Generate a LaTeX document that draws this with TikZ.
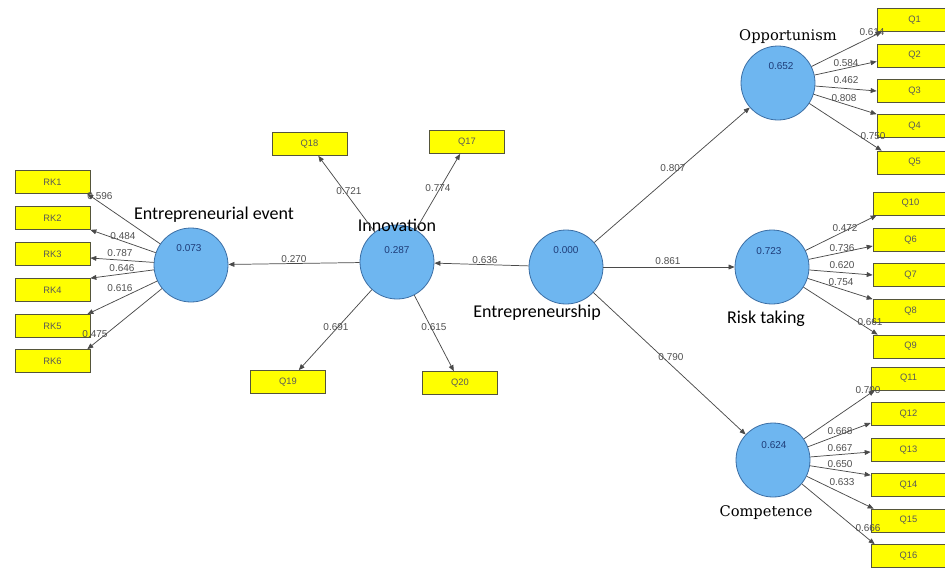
\documentclass[tikz,border=0pt]{standalone}
\usepackage{fontspec}
\setmainfont{Liberation Sans}
\newfontfamily\calfont{Carlito}
\newfontfamily\serfont{DejaVu Serif}
\usetikzlibrary{arrows.meta,calc}
\definecolor{circfill}{HTML}{6EB6F0}
\definecolor{circline}{HTML}{3C6FA5}
\definecolor{boxfill}{HTML}{FFFF00}
\definecolor{boxline}{HTML}{55553A}
\definecolor{valtext}{HTML}{1E3C78}
\definecolor{numtext}{HTML}{505050}
\definecolor{linecol}{HTML}{4A4A4A}
\begin{document}
\begin{tikzpicture}[x=0.75pt,y=-0.75pt,
 lv/.style={circle,draw=circline,fill=circfill,line width=0.6pt,minimum size=55.5pt,inner sep=0},
 ind/.style={rectangle,draw=boxline,fill=boxfill,line width=0.5pt,minimum width=56.25pt,minimum height=17.25pt,inner sep=0,font=\fontsize{7}{8}\selectfont,text=black!65},
 num/.style={font=\fontsize{7.5}{8}\selectfont,text=numtext,inner sep=0},
 rsq/.style={font=\fontsize{7.5}{8}\selectfont,text=valtext,inner sep=0},
 sname/.style={font=\calfont\fontsize{13.5}{15}\selectfont,inner sep=0},
 rname/.style={font=\serfont\fontsize{11}{13}\selectfont,inner sep=0},
 arr/.style={draw=linecol,line width=0.55pt,-{Triangle[length=4.5pt,width=3.6pt]}}
]
\useasboundingbox (0,0) rectangle (945,569);
\clip (0,0) rectangle (945,569);
\fill[white] (0,0) rectangle (945,569);

% indicator boxes
\node[ind] (rk1) at (52.5,182) {RK1};
\node[ind] (rk2) at (52.5,218) {RK2};
\node[ind] (rk3) at (52.5,254) {RK3};
\node[ind] (rk4) at (52.5,290) {RK4};
\node[ind] (rk5) at (52.5,326) {RK5};
\node[ind] (rk6) at (52.5,361) {RK6};

\node[ind] (q18) at (309.5,144) {Q18};
\node[ind] (q17) at (467,142) {Q17};
\node[ind] (q19) at (288,382) {Q19};
\node[ind] (q20) at (460,383) {Q20};

\node[ind] (q1) at (914.5,20) {Q1};
\node[ind] (q2) at (914.5,55.5) {Q2};
\node[ind] (q3) at (914.5,91) {Q3};
\node[ind] (q4) at (914.5,126) {Q4};
\node[ind] (q5) at (914.5,162.5) {Q5};

\node[ind] (q10) at (910.5,203.5) {Q10};
\node[ind] (q6) at (910.5,240) {Q6};
\node[ind] (q7) at (910.5,275) {Q7};
\node[ind] (q8) at (910.5,311) {Q8};
\node[ind] (q9) at (910.5,346.5) {Q9};

\node[ind] (q11) at (908.5,378.5) {Q11};
\node[ind] (q12) at (908.5,414) {Q12};
\node[ind] (q13) at (908.5,450) {Q13};
\node[ind] (q14) at (908.5,485) {Q14};
\node[ind] (q15) at (908.5,520.5) {Q15};
\node[ind] (q16) at (908.5,556) {Q16};

% latent variables
\node[lv] (ee) at (191,265) {};
\node[lv] (inn) at (397,262) {};
\node[lv] (ent) at (566,267) {};
\node[lv] (opp) at (778,83) {};
\node[lv] (risk) at (772,267) {};
\node[lv] (comp) at (773,460) {};

\node[rsq] (ee-r) at (189,248) {0.073};
\node[rsq] (inn-r) at (397,250) {0.287};
\node[rsq] (ent-r) at (566,250) {0.000};
\node[rsq] (opp-r) at (781,66) {0.652};
\node[rsq] (risk-r) at (769,251) {0.723};
\node[rsq] (comp-r) at (774,445) {0.624};

% construct names
\node[sname] (ee-l) at (214,215) {Entrepreneurial event};
\node[sname] (inn-l) at (397,225) {Innovation};
\node[sname] (ent-l) at (537,313) {Entrepreneurship};
\node[rname] (opp-l) at (788,37) {Opportunism};
\node[sname] (risk-l) at (766,319) {Risk taking};
\node[rname] (comp-l) at (766,513) {Competence};

% coefficients
\node[num] (n-rk1) at (100,196) {0.596};
\node[num] (n-rk2) at (123,236) {0.484};
\node[num] (n-rk3) at (120,253) {0.787};
\node[num] (n-rk4) at (122,268) {0.646};
\node[num] (n-rk5) at (120,288) {0.616};
\node[num] (n-rk6) at (95,334) {0.475};

\node[num] (n-q18) at (349,191) {0.721};
\node[num] (n-q17) at (438,188) {0.774};
\node[num] (n-q19) at (336,327) {0.691};
\node[num] (n-q20) at (434,327) {0.615};
\node[num] (n-ee) at (294,259) {0.270};
\node[num] (n-inn) at (485,260) {0.636};

\node[num] (n-opp) at (673,168) {0.807};
\node[num] (n-risk) at (668,261) {0.861};
\node[num] (n-comp) at (671,357) {0.790};

\node[num] (n-q1) at (872,32) {0.614};
\node[num] (n-q2) at (846,63) {0.584};
\node[num] (n-q3) at (846,80) {0.462};
\node[num] (n-q4) at (844,98) {0.808};
\node[num] (n-q5) at (873,136) {0.750};

\node[num] (n-q10) at (845,228) {0.472};
\node[num] (n-q6) at (842,248) {0.736};
\node[num] (n-q7) at (842,265) {0.620};
\node[num] (n-q8) at (841,282) {0.754};
\node[num] (n-q9) at (870,322) {0.661};

\node[num] (n-q11) at (868,390) {0.700};
\node[num] (n-q12) at (840,431) {0.668};
\node[num] (n-q13) at (840,448) {0.667};
\node[num] (n-q14) at (840,464) {0.650};
\node[num] (n-q15) at (842,482) {0.633};
\node[num] (n-q16) at (868,528) {0.666};

% structural paths
\draw[arr] (ent) -- (inn);
\draw[arr] (inn) -- (ee);
\draw[arr] (ent) -- (opp);
\draw[arr] (ent) -- (risk);
\draw[arr] (ent) -- (comp);

% Entrepreneurial event indicators
\draw[arr] (ee) -- ($(rk1.south east)+(-3,0)$);
\draw[arr] (ee) -- (rk2.south east);
\draw[arr] (ee) -- ($(rk3.east)+(0,4)$);
\draw[arr] (ee) -- (rk4.north east);
\draw[arr] (ee) -- ($(rk5.north east)+(-3,0)$);
\draw[arr] (ee) -- ($(rk6.north east)+(-3,0)$);

% Innovation indicators
\draw[arr] (inn) -- (q18);
\draw[arr] (inn) -- (q17);
\draw[arr] (inn) -- (q19);
\draw[arr] (inn) -- (q20);

% Opportunism indicators
\draw[arr] (opp) -- ($(q1.south west)+(5,0)$);
\draw[arr] (opp) -- ($(q2.west)+(0,6)$);
\draw[arr] (opp) -- (q3.west);
\draw[arr] (opp) -- (q4.north west);
\draw[arr] (opp) -- ($(q5.north west)+(5,0)$);

% Risk taking indicators
\draw[arr] (risk) -- ($(q10.south west)+(4,0)$);
\draw[arr] (risk) -- ($(q6.west)+(0,6)$);
\draw[arr] (risk) -- (q7.west);
\draw[arr] (risk) -- (q8.north west);
\draw[arr] (risk) -- ($(q9.north west)+(5,0)$);

% Competence indicators
\draw[arr] (comp) -- ($(q11.south west)+(4,0)$);
\draw[arr] (comp) -- ($(q12.west)+(0,9)$);
\draw[arr] (comp) -- ($(q13.west)+(0,2)$);
\draw[arr] (comp) -- ($(q14.north west)+(0,2)$);
\draw[arr] (comp) -- ($(q15.north west)+(3,0)$);
\draw[arr] (comp) -- ($(q16.north west)+(4,0)$);
\end{tikzpicture}
\end{document}
